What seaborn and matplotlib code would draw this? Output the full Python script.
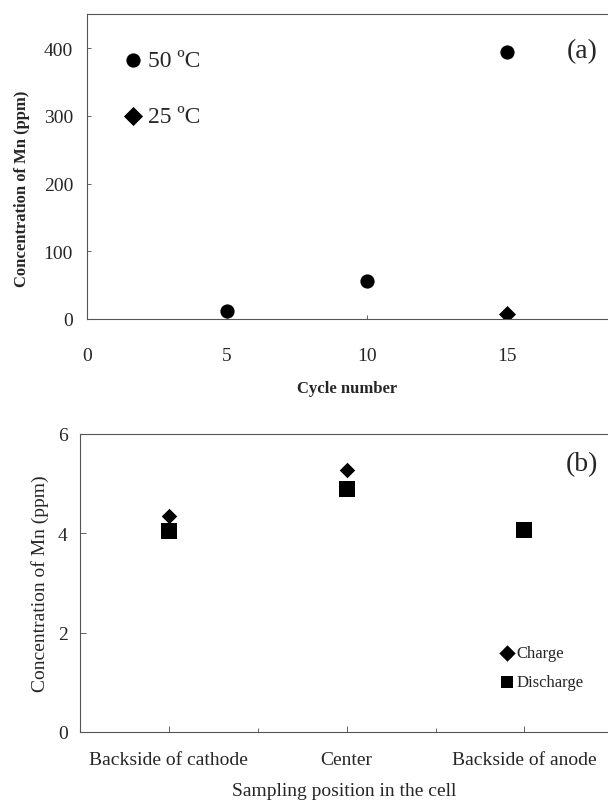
import matplotlib
matplotlib.use("Agg")
import matplotlib.pyplot as plt
import seaborn as sns

# -------------------- DATA --------------------
cycles_50 = [5, 10, 15]
mn_50 = [12, 56, 394]
cycles_25 = [15]
mn_25 = [8]

positions = ["Backside of cathode", "Center", "Backside of anode"]
mn_charge = [4.35, 5.27, 4.07]
mn_discharge = [4.05, 4.90, 4.07]

# -------------------- STYLE --------------------
sns.set_style("ticks")
plt.rcParams['font.family'] = ['Liberation Serif', 'DejaVu Serif']
plt.rcParams['axes.linewidth'] = 0.8
plt.rcParams['axes.edgecolor'] = '#555555'

fig = plt.figure(figsize=(6.08, 8.03), dpi=100)

# -------------------- PANEL (a) --------------------
ax1 = fig.add_axes([0.143, 0.6015, 0.857, 0.3795])
sns.scatterplot(x=cycles_50, y=mn_50, marker="o", color="black", s=105,
                linewidth=0, label="50 ºC", ax=ax1)
sns.scatterplot(x=cycles_25, y=mn_25, marker="D", color="black", s=75,
                linewidth=0, label="25 ºC", ax=ax1)
ax1.set_xlim(0, 18.6)
ax1.set_ylim(0, 450)
ax1.set_xticks([0, 5, 10, 15])
ax1.set_yticks([0, 100, 200, 300, 400])
ax1.tick_params(direction="in", length=3, width=0.5, labelsize=14, pad=10)
ax1.tick_params(axis="x", pad=20)
ax1.set_xlabel("Cycle number", fontsize=12, fontweight="bold", labelpad=12)
ax1.set_ylabel("Concentration of Mn (ppm)", fontsize=12, fontweight="bold")
ax1.yaxis.set_label_coords(-0.11, 0.43)
ax1.spines["right"].set_visible(False)
leg1 = ax1.legend(loc="upper left", bbox_to_anchor=(0.066, 0.885), frameon=False,
                  fontsize=17, labelspacing=1.47, handletextpad=0.15,
                  handlelength=1.0, borderpad=0, borderaxespad=0)
for h, sz in zip(leg1.legend_handles, [105, 95]):
    h.set_sizes([sz])
ax1.text(0.95, 0.88, "(a)", transform=ax1.transAxes, fontsize=20,
         ha="center", va="center")

# -------------------- PANEL (b) --------------------
x_pos = list(range(len(positions)))
ax2 = fig.add_axes([0.1316, 0.0872, 0.8684, 0.3711])
sns.scatterplot(x=x_pos, y=mn_charge, marker="D", color="black", s=62,
                linewidth=0, label="Charge", ax=ax2)
sns.scatterplot(x=x_pos, y=mn_discharge, marker="s", color="black", s=130,
                linewidth=0, label="Discharge", ax=ax2)
ax2.set_xlim(-0.5, 2.47)
ax2.set_ylim(0, 6)
ax2.set_xticks(x_pos)
ax2.set_xticklabels(positions)
ax2.set_xticks([0.5, 1.5], minor=True)
ax2.set_yticks([0, 2, 4, 6])
ax2.tick_params(direction="in", length=4, width=0.5, labelsize=14, pad=9)
ax2.tick_params(axis="x", which="minor", direction="in", length=3, width=0.5)
ax2.tick_params(axis="x", pad=14)
ax2.set_xlabel("Sampling position in the cell", fontsize=14, labelpad=10)
ax2.set_ylabel("Concentration of Mn (ppm)", fontsize=14)
ax2.yaxis.set_label_coords(-0.059, 0.5)
ax2.spines["right"].set_visible(False)
leg2 = ax2.legend(loc="lower left", bbox_to_anchor=(0.795, 0.14), frameon=False,
                  fontsize=12, labelspacing=0.8, handletextpad=0.1,
                  handlelength=0.9, borderpad=0, borderaxespad=0)
for h, sz in zip(leg2.legend_handles, [70, 80]):
    h.set_sizes([sz])
ax2.text(0.95, 0.9, "(b)", transform=ax2.transAxes, fontsize=20,
         ha="center", va="center")

fig.savefig("out.png", dpi=100)
